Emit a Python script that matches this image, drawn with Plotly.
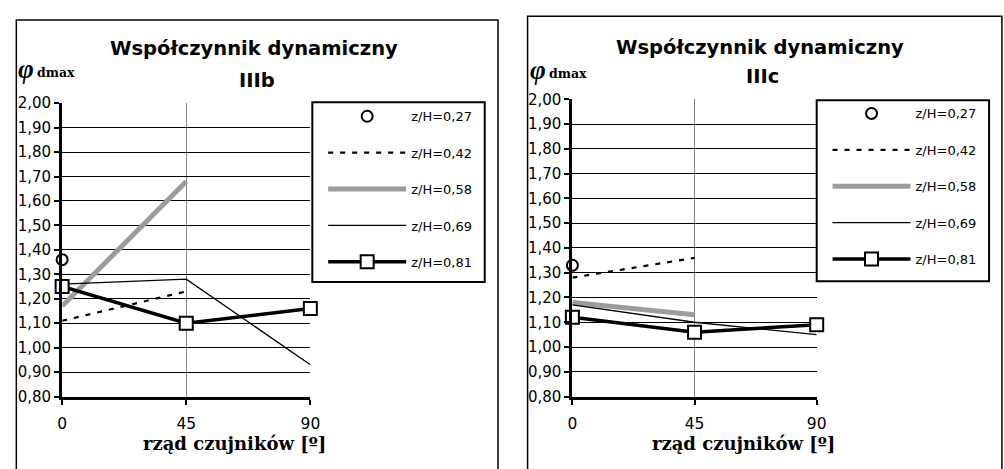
import plotly.graph_objects as go

W, H = 1004, 469

# sensor row angle [deg]
angles = [0, 45, 90]
tick_vals = [0, 45, 90]
series_names = ["z/H=0,27", "z/H=0,42", "z/H=0,58", "z/H=0,69", "z/H=0,81"]

# dynamic coefficient, case IIIb
iiib_027 = [1.36, None, None]
iiib_042 = [1.11, 1.23, None]
iiib_058 = [1.17, 1.68, None]
iiib_069 = [1.26, 1.28, 0.93]
iiib_081 = [1.25, 1.10, 1.16]

# dynamic coefficient, case IIIc
iiic_027 = [1.33, None, None]
iiic_042 = [1.28, 1.36, None]
iiic_058 = [1.18, 1.13, None]
iiic_069 = [1.17, 1.10, 1.05]
iiic_081 = [1.12, 1.06, 1.09]


def px(x):
    return x / W


def py(y):
    return 1 - y / H


styles = [
    dict(mode="markers", marker=dict(symbol="circle", size=11, color="white",
                                     line=dict(color="black", width=2))),
    dict(mode="lines", line=dict(color="black", width=2.2, dash="5px,7px")),
    dict(mode="lines", line=dict(color="#9c9c9c", width=5)),
    dict(mode="lines", line=dict(color="black", width=1.3)),
    dict(mode="lines+markers", line=dict(color="black", width=3.5),
         marker=dict(symbol="square", size=13, color="white",
                     line=dict(color="black", width=2))),
]

fig = go.Figure()

panels = [
    ("x", "y", "legend", [iiib_027, iiib_042, iiib_058, iiib_069, iiib_081]),
    ("x2", "y2", "legend2", [iiic_027, iiic_042, iiic_058, iiic_069, iiic_081]),
]
for xa, ya, leg, series in panels:
    for i, (name, vals) in enumerate(zip(series_names, series)):
        fig.add_trace(go.Scatter(
            x=angles, y=vals, name=name, xaxis=xa, yaxis=ya, legend=leg,
            legendgroup=f"{leg}-{i}", cliponaxis=False, connectgaps=False,
            hoverinfo="skip", **styles[i]))

tick_font = dict(family="DejaVu Sans", size=15, color="black")
xcommon = dict(range=[0, 90], tickvals=tick_vals, ticktext=[str(v) for v in tick_vals],
               showgrid=True, gridcolor="#808080", gridwidth=1, zeroline=False,
               showline=True, linecolor="black", linewidth=3, ticks="outside",
               ticklen=5, tickwidth=2, tickcolor="black",
               tickfont=dict(family="DejaVu Sans", size=15.5, color="black"),
               ticklabelstandoff=6)
ycommon = dict(range=[0.8, 2.0], dtick=0.1, tick0=0.8, tickformat=".2f",
               showgrid=True, gridcolor="black", gridwidth=1, zeroline=False,
               showline=True, linecolor="black", linewidth=3, ticks="outside",
               ticklen=5, tickwidth=2, tickcolor="black", tickfont=tick_font)

legend_common = dict(font=dict(family="DejaVu Sans", size=13, color="black"),
                     bgcolor="rgba(0,0,0,0)", borderwidth=0, itemwidth=78,
                     tracegroupgap=16.5, xanchor="left", yanchor="top",
                     itemclick=False, itemdoubleclick=False)

fig.update_layout(
    width=W, height=H, autosize=False,
    margin=dict(l=0, r=0, t=0, b=0, pad=0),
    paper_bgcolor="white", plot_bgcolor="white",
    separators=", ",
    showlegend=True,
    xaxis=dict(domain=[px(58), px(310)], anchor="y", **xcommon),
    yaxis=dict(domain=[py(403), py(98)], anchor="x", **ycommon),
    xaxis2=dict(domain=[px(576), px(824)], anchor="y2", **xcommon),
    yaxis2=dict(domain=[py(403), py(94)], anchor="x2", **ycommon),
    legend=dict(x=px(323), y=py(96), **legend_common),
    legend2=dict(x=px(835), y=py(93), **legend_common),
)

shapes = [
    # chart frames
    dict(type="rect", x0=px(11.5), x1=px(500.5), y0=py(480), y1=py(11.5),
         line=dict(color="black", width=1.5)),
    dict(type="rect", x0=px(530.5), x1=px(1012), y0=py(480), y1=py(7.5),
         line=dict(color="black", width=1.5)),
    # legend frames
    dict(type="rect", x0=px(312), x1=px(487), y0=py(284), y1=py(97),
         line=dict(color="black", width=2)),
    dict(type="rect", x0=px(824), x1=px(999), y0=py(283), y1=py(95),
         line=dict(color="black", width=2)),
]
fig.update_layout(shapes=[dict(s, xref="paper", yref="paper") for s in shapes])

title_font = dict(family="DejaVu Sans", size=19.5, color="black", weight="bold")
xlab_font = dict(family="DejaVu Serif", size=18, color="black", weight="bold")
phi_font = dict(family="Liberation Serif", size=27, color="black", weight="bold",
                style="italic")
sub_font = dict(family="DejaVu Serif", size=12.5, color="black", weight="bold")

annotations = []
for cx, t1y, t2y, sub, phix, phiy, xlx in [
    (253, 41, 74, "IIIb", 21, 62, 233),
    (766, 40, 70, "IIIc", 541, 63, 750),
]:
    annotations += [
        dict(text="Współczynnik dynamiczny", x=px(cx), y=py(t1y), font=title_font),
        dict(text=sub, x=px(cx + 3), y=py(t2y), font=title_font),
        dict(text="φ", x=px(phix), y=py(phiy), font=phi_font),
        dict(text="dmax", x=px(phix + 9), y=py(phiy + 4), font=sub_font,
             xanchor="left"),
        dict(text="rząd czujników [º]", x=px(xlx), y=py(452), font=xlab_font),
    ]
fig.update_layout(annotations=[
    dict(dict(xref="paper", yref="paper", showarrow=False, xanchor="center",
              yanchor="middle"), **a) for a in annotations])

fig.write_html("out.html")
